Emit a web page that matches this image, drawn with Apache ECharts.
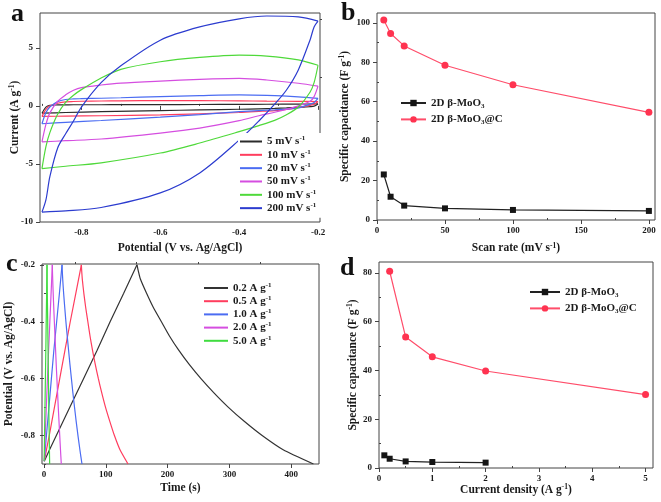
<!DOCTYPE html>
<html><head><meta charset="utf-8">
<script src="https://cdn.jsdelivr.net/npm/echarts@6/dist/echarts.min.js"></script>
<style>html,body{margin:0;padding:0;background:#fff}#c{width:661px;height:502px}</style>
</head><body><div id="c"></div>
<script>
// ---------- Panel a : cyclic voltammetry ----------
const cvRates = ['5', '10', '20', '50', '100', '200'];
const cvForwardPotential = [-0.9, -0.89, -0.88, -0.86, -0.84, -0.82, -0.8, -0.75, -0.7, -0.6, -0.5, -0.4, -0.33, -0.25, -0.2];
const cvReversePotential = [-0.2, -0.21, -0.22, -0.25, -0.28, -0.31, -0.35, -0.4, -0.5, -0.6, -0.75, -0.84, -0.9];
const cvForward5   = [-0.63, -0.1, 0.05, 0.08, 0.09, 0.1, 0.1, 0.1, 0.11, 0.11, 0.12, 0.13, 0.14, 0.16, 0.17];
const cvReverse5   = [0.17, -0.02, -0.06, -0.12, -0.17, -0.21, -0.25, -0.29, -0.35, -0.4, -0.5, -0.57, -0.63];
const cvForward10  = [-0.91, -0.3, 0.0, 0.23, 0.35, 0.38, 0.4, 0.42, 0.44, 0.46, 0.45, 0.43, 0.41, 0.39, 0.37];
const cvReverse10  = [0.37, 0.14, 0.05, -0.15, -0.3, -0.4, -0.48, -0.57, -0.68, -0.77, -0.85, -0.88, -0.91];
const cvForward20  = [-1.54, -0.6, -0.1, 0.37, 0.55, 0.6, 0.62, 0.66, 0.7, 0.8, 0.88, 0.94, 0.9, 0.78, 0.65];
const cvReverse20  = [0.65, 0.3, 0.15, -0.18, -0.28, -0.34, -0.4, -0.5, -0.75, -0.97, -1.26, -1.42, -1.54];
const cvForward50  = [-3.1, -1.6, -0.6, 0.4, 0.95, 1.35, 1.58, 1.8, 1.96, 2.14, 2.29, 2.37, 2.23, 1.95, 1.7];
const cvReverse50  = [1.7, 0.8, 0.4, 0.0, -0.3, -0.55, -0.85, -1.27, -1.91, -2.34, -2.85, -3.0, -3.1];
const cvForward100 = [-5.4, -3.5, -2.3, -0.7, 0.3, 0.92, 1.4, 2.4, 3.15, 3.8, 4.17, 4.37, 4.29, 3.97, 3.5];
const cvReverse100 = [3.5, 2.0, 1.2, -0.1, -0.77, -1.25, -1.7, -2.22, -3.2, -4.06, -4.9, -5.2, -5.4];
const cvForward200 = [-9.15, -8.1, -6.1, -3.6, -2.4, -1.3, -0.1, 2.0, 3.45, 5.66, 6.8, 7.5, 7.74, 7.66, 7.3];
const cvReverse200 = [7.3, 6.8, 5.7, 3.1, 1.37, 0.15, -1.3, -2.95, -5.77, -7.49, -8.75, -9.05, -9.15];
const cvColors = ['#2b2b2b', '#ff3d5e', '#4b6cf2', '#d54ee0', '#4fd93a', '#2c3ccf'];

// ---------- Panel b : capacitance vs scan rate ----------
const scanRates = [5, 10, 20, 50, 100, 200];
const capMoO3Scan = [23.1, 11.8, 7.3, 5.9, 5.1, 4.6];
const capMoO3CScan = [101.4, 94.6, 88.3, 78.5, 68.6, 54.6];

// ---------- Panel c : galvanostatic charge/discharge ----------
const gcdDensities = ['0.2', '0.5', '1.0', '2.0', '5.0'];
const gcdChargePotential = [-0.89, -0.85, -0.8, -0.7, -0.6, -0.5, -0.4, -0.3, -0.2];
const gcdDischargePotential = [-0.2, -0.22, -0.25, -0.3, -0.35, -0.4, -0.45, -0.5, -0.55, -0.6, -0.65, -0.7, -0.75, -0.8, -0.85, -0.9];
const gcdCharge02 = [0.5, 9, 20, 42, 64, 86, 107, 129, 150.5];
const gcdDischarge02 = [150.5, 152.5, 156, 166, 177, 190, 203, 218, 235, 254, 275, 298, 324, 353, 387, 436];
const gcdCharge05 = [0.5, 4, 8.5, 17, 25.5, 34, 42.5, 51.5, 60.5];
const gcdDischarge05 = [60.5, 61, 62, 64.5, 67.5, 71, 74.5, 78.5, 83, 88, 93.5, 99.5, 106.5, 114, 123, 136];
const gcdCharge10 = [0.5, 2, 4, 8, 12, 16, 20.5, 25, 29.2];
const gcdDischarge10 = [29.2, 29.6, 30.3, 31.8, 33.6, 35.5, 37.6, 39.8, 42, 44.4, 46.8, 49.4, 52.1, 55, 58.1, 61.5];
const gcdCharge20 = [0.5, 1.2, 2, 3.8, 5.6, 7.5, 9.5, 11.5, 13.5];
const gcdDischarge20 = [13.5, 13.7, 14.1, 14.9, 15.8, 16.8, 17.8, 18.8, 19.8, 20.9, 22, 23.1, 24.3, 25.5, 26.7, 28];
const gcdCharge50 = [0.3, 0.6, 0.9, 1.6, 2.3, 3.0, 3.6, 4.3, 4.9];
const gcdDischarge50 = [4.9, 5.0, 5.1, 5.4, 5.7, 6.0, 6.3, 6.6, 6.9, 7.2, 7.5, 7.8, 8.1, 8.5, 8.8, 9.2];
const gcdColors = ['#333333', '#ff3d5e', '#4b6cf2', '#d54ee0', '#3fdc3f'];

// ---------- Panel d : capacitance vs current density ----------
const densMoO3 = [0.1, 0.2, 0.5, 1, 2];
const capMoO3Dens = [5.2, 3.8, 2.7, 2.45, 2.2];
const densMoO3C = [0.2, 0.5, 1, 2, 5];
const capMoO3CDens = [80.7, 53.7, 45.6, 39.8, 30.1];

// ---------- tick values ----------
const aXMajor = [-0.8, -0.6, -0.4, -0.2], aXMinor = [-0.9, -0.7, -0.5, -0.3];
const aYMajor = [-10, -5, 0, 5], aYMinor = [-7.5, -2.5, 2.5, 7.5];
const bXMajor = [0, 50, 100, 150, 200], bXMinor = [25, 75, 125, 175];
const bYMajor = [0, 20, 40, 60, 80, 100], bYMinor = [10, 30, 50, 70, 90];
const cXMajor = [0, 100, 200, 300, 400], cXMinor = [50, 150, 250, 350];
const cYMajor = [-0.8, -0.6, -0.4, -0.2], cYMinor = [-0.9, -0.7, -0.5, -0.3];
const dXMajor = [0, 1, 2, 3, 4, 5], dXMinor = [0.5, 1.5, 2.5, 3.5, 4.5];
const dYMajor = [0, 20, 40, 60, 80], dYMinor = [10, 30, 50, 70];

const FF = 'Liberation Serif';
const INK = '#1a1a1a';
const FRAME = '#444';
const rich = {
  t: {fontFamily: FF, fontWeight: 'bold', fontSize: 11, lineHeight: 13, color: INK},
  s: {fontFamily: FF, fontWeight: 'bold', fontSize: 7, lineHeight: 8, verticalAlign: 'top', color: INK},
  b: {fontFamily: FF, fontWeight: 'bold', fontSize: 7, lineHeight: 8, verticalAlign: 'bottom', color: INK}
};
const nameRich = {
  t: {fontFamily: FF, fontWeight: 'bold', fontSize: 11.5, lineHeight: 13, color: INK},
  s: {fontFamily: FF, fontWeight: 'bold', fontSize: 7.5, lineHeight: 8, verticalAlign: 'top', color: INK}
};

const xAxes = [], yAxes = [];
function addAxes(list, grid, min, max, major, minor, name, nameGap, isY) {
  list.push({
    type: 'value', gridIndex: grid, min: min, max: max,
    axisLine: {show: false}, splitLine: {show: false},
    axisTick: {show: true, customValues: major, length: 4, lineStyle: {color: FRAME, width: 1}},
    axisLabel: {customValues: major, fontFamily: FF, fontWeight: 'bold', fontSize: 9, color: INK, margin: isY ? 7 : 6},
    name: name, nameLocation: 'middle', nameGap: nameGap, nameMoveOverlap: false,
    nameTextStyle: {rich: nameRich}
  });
  list.push({
    type: 'value', gridIndex: grid, min: min, max: max,
    axisLine: {show: false}, splitLine: {show: false},
    axisTick: {show: true, customValues: minor, length: 2, lineStyle: {color: FRAME, width: 1}},
    axisLabel: {show: false}
  });
}
addAxes(xAxes, 0, -0.905, -0.195, aXMajor, aXMinor, '{t|Potential (V vs. Ag/AgCl)}', 19.5, false);
addAxes(yAxes, 0, -10, 8, aYMajor, aYMinor, '{t|Current (A g}{s|-1}{t|)}', 18.5, true);
addAxes(xAxes, 1, 0, 204.5, bXMajor, bXMinor, '{t|Scan rate (mV s}{s|-1}{t|)}', 22, false);
addAxes(yAxes, 1, 0, 105, bYMajor, bYMinor, '{t|Specific capacitance (F g}{s|-1}{t|)}', 25.5, true);
addAxes(xAxes, 2, -3.2, 445, cXMajor, cXMinor, '{t|Time (s)}', 18, false);
addAxes(yAxes, 2, -0.9, -0.197, cYMajor, cYMinor, '{t|Potential (V vs. Ag/AgCl)}', 26.5, true);
addAxes(xAxes, 3, 0, 5.14, dXMajor, dXMinor, '{t|Current density (A g}{s|-1}{t|)}', 15.5, false);
addAxes(yAxes, 3, 0, 84.5, dYMajor, dYMinor, '{t|Specific capacitance (F g}{s|-1}{t|)}', 19.5, true);

const series = [];
const pairs = (xs, ys) => xs.map((x, i) => [x, ys[i]]);
const cvFwd = [cvForward5, cvForward10, cvForward20, cvForward50, cvForward100, cvForward200];
const cvRev = [cvReverse5, cvReverse10, cvReverse20, cvReverse50, cvReverse100, cvReverse200];
cvRates.forEach((r, i) => {
  const base = {type: 'line', name: r + ' mV s', xAxisIndex: 0, yAxisIndex: 0, showSymbol: false, symbol: 'none',
    smooth: 0.3, lineStyle: {color: cvColors[i], width: 1.2}, itemStyle: {color: cvColors[i]}, z: 2 + i * 0.01};
  series.push(Object.assign({}, base, {data: pairs(cvForwardPotential, cvFwd[i])}));
  series.push(Object.assign({}, base, {data: pairs(cvReversePotential, cvRev[i])}));
});

const gcdCh = [gcdCharge02, gcdCharge05, gcdCharge10, gcdCharge20, gcdCharge50];
const gcdDis = [gcdDischarge02, gcdDischarge05, gcdDischarge10, gcdDischarge20, gcdDischarge50];
gcdDensities.forEach((d, i) => {
  const base = {type: 'line', name: d + ' A g', xAxisIndex: 4, yAxisIndex: 4, showSymbol: false, symbol: 'none',
    lineStyle: {color: gcdColors[i], width: 1.2}, itemStyle: {color: gcdColors[i]}};
  series.push(Object.assign({}, base, {data: pairs(gcdCh[i], gcdChargePotential)}));
  series.push(Object.assign({}, base, {smooth: 0.2, data: pairs(gcdDis[i], gcdDischargePotential)}));
});

const blackS = {color: '#151515'}, redS = {color: '#ff3350'};
series.push({type: 'line', name: 'MoO3', xAxisIndex: 2, yAxisIndex: 2, data: pairs(scanRates, capMoO3Scan),
  symbol: 'rect', symbolSize: 6, lineStyle: {color: '#222', width: 1.2}, itemStyle: blackS});
series.push({type: 'line', name: 'MoO3@C', xAxisIndex: 2, yAxisIndex: 2, data: pairs(scanRates, capMoO3CScan),
  symbol: 'circle', symbolSize: 7, lineStyle: {color: '#ff4d6a', width: 1.2}, itemStyle: redS});
series.push({type: 'line', name: 'MoO3', xAxisIndex: 6, yAxisIndex: 6, data: pairs(densMoO3, capMoO3Dens),
  symbol: 'rect', symbolSize: 6, lineStyle: {color: '#222', width: 1.2}, itemStyle: blackS});
series.push({type: 'line', name: 'MoO3@C', xAxisIndex: 6, yAxisIndex: 6, data: pairs(densMoO3C, capMoO3CDens),
  symbol: 'circle', symbolSize: 7, lineStyle: {color: '#ff4d6a', width: 1.2}, itemStyle: redS});

const moFmt = n => n === 'MoO3' ? '{t|2D β-MoO}{b|3}' : '{t|2D β-MoO}{b|3}{t|@C}';
const supFmt = n => '{t|' + n + '}{s|-1}';
const legends = [
  {data: cvRates.map(r => r + ' mV s'), left: 238, top: 133, orient: 'vertical', icon: 'rect', itemWidth: 22, itemHeight: 2,
   itemGap: 1.33, padding: [2, 8, 4, 2], backgroundColor: '#fff', formatter: supFmt, textStyle: {rich: rich}, selectedMode: false},
  {data: ['MoO3', 'MoO3@C'], left: 400, top: 97.5, orient: 'vertical', itemWidth: 25, itemHeight: 8,
   itemGap: 4.4, padding: 0, formatter: moFmt, textStyle: {rich: rich}, selectedMode: false},
  {data: gcdDensities.map(d => d + ' A g'), left: 204, top: 281.5, orient: 'vertical', icon: 'rect', itemWidth: 24, itemHeight: 2,
   itemGap: 1.2, padding: 0, formatter: supFmt, textStyle: {rich: rich}, selectedMode: false},
  {data: ['MoO3', 'MoO3@C'], left: 529, top: 286.5, orient: 'vertical', itemWidth: 30, itemHeight: 8,
   itemGap: 4.4, padding: 0, formatter: moFmt, textStyle: {rich: rich}, selectedMode: false}
];

const letter = (txt, x, y) => ({type: 'text', left: x, top: y,
  style: {text: txt, font: 'bold 26px "Liberation Serif"', fill: '#111'}});

const chart = echarts.init(document.getElementById('c'), null, {renderer: 'canvas'});
chart.setOption({
  animation: false,
  backgroundColor: '#fff',
  grid: [
    {left: 40, top: 13, width: 280, height: 209, show: true, borderColor: FRAME, borderWidth: 1, backgroundColor: 'transparent'},
    {left: 377, top: 13, width: 278, height: 207, show: true, borderColor: FRAME, borderWidth: 1, backgroundColor: 'transparent'},
    {left: 42, top: 264, width: 277, height: 200, show: true, borderColor: FRAME, borderWidth: 1, backgroundColor: 'transparent'},
    {left: 379, top: 262, width: 274, height: 206, show: true, borderColor: FRAME, borderWidth: 1, backgroundColor: 'transparent'}
  ],
  xAxis: xAxes, yAxis: yAxes,
  legend: legends,
  series: series,
  graphic: [letter('a', 11, 1), letter('b', 341, 0), letter('c', 6, 251), letter('d', 340, 255)]
});
</script></body></html>
